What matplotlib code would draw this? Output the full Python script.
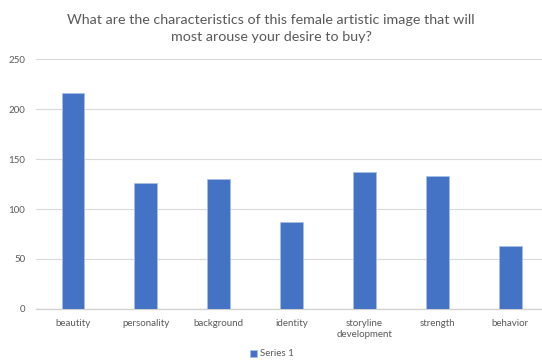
import matplotlib
matplotlib.use("Agg")
import matplotlib.pyplot as plt

categories = ["beautity", "personality", "background", "identity",
              "storyline\ndevelopment", "strength", "behavior"]
values = [216, 126, 130, 87, 137, 133, 63]
y_ticks = [0, 50, 100, 150, 200, 250]
series_name = "Series 1"
title = ("What are the characteristics of this female artistic image that will\n"
         "most arouse your desire to buy?")

plt.rcParams["font.family"] = ["Lato", "DejaVu Sans"]

fig = plt.figure(figsize=(5.42, 3.60), dpi=100)
ax = fig.add_axes([36.4 / 542, 51 / 360, 510.5 / 542, 250 / 360])

bars_x = range(len(categories))
ax.bar(bars_x, values, width=0.31, color="#4472C4", edgecolor="#A9BFE6",
       linewidth=0.6, label=series_name, zorder=3)

ax.set_xlim(-0.5, len(categories) - 0.5)
ax.set_ylim(0, 250)
ax.set_yticks(y_ticks)
ax.set_xticks(list(bars_x))
ax.set_xticklabels(categories, fontsize=7, color="#595959", linespacing=1.3)
ax.tick_params(axis="y", labelsize=7, labelcolor="#595959", length=0, pad=8)
ax.tick_params(axis="x", length=0, pad=7)

ax.grid(axis="y", color="#D9D9D9", linewidth=0.8, zorder=0)
for side in ("top", "right", "left"):
    ax.spines[side].set_visible(False)
ax.spines["bottom"].set_color("#D0D0D0")
ax.spines["bottom"].set_linewidth(0.9)

fig.text(0.5, 1 - 28.5 / 360, title, ha="center", va="center", fontsize=10.3,
         color="#595959", linespacing=1.45)

fig.legend(loc="center", bbox_to_anchor=(272 / 542, 1 - 354 / 360), ncol=1,
           frameon=False, fontsize=7, handlelength=0.7, handleheight=0.7,
           handletextpad=0.4, labelcolor="#595959")

fig.savefig("out.png", dpi=100)
